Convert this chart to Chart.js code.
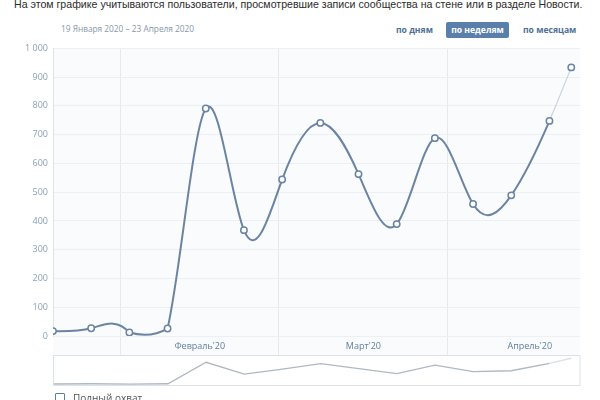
<!DOCTYPE html>
<html>
<head>
<meta charset="utf-8">
<script src="https://cdn.jsdelivr.net/npm/chart.js@4/dist/chart.umd.min.js"></script>
<style>
  body { margin: 0; width: 600px; height: 400px; overflow: hidden; background: #fff; position: relative; font-family: "Open Sans", sans-serif; }
  #note { position: absolute; left: 14px; top: -3px; font-family: "Liberation Sans", Arial, sans-serif; font-size: 10.6px; line-height: 14px; color: #2b2b2b; white-space: nowrap; }
  #range { position: absolute; left: 61px; top: 22px; font-size: 8.3px; line-height: 13px; color: #8797a9; white-space: nowrap; }
  .period { position: absolute; top: 22px; height: 16px; line-height: 16px; font-size: 8.6px; font-weight: bold; color: #4d6f96; white-space: nowrap; }
  .period.on { background: #5a7fab; color: #fff; border-radius: 2px; text-align: center; }
  #full { position: absolute; left: 55px; top: 392px; font-size: 10px; line-height: 12px; color: #555; white-space: nowrap; }
  #full .box { display: inline-block; width: 8px; height: 8px; border: 1px solid #5a7fab; border-radius: 1px; margin-right: 8px; vertical-align: -1px; }
  canvas { position: absolute; left: 0; }
</style>
</head>
<body>
<div id="note">На этом графике учитываются пользователи, просмотревшие записи сообщества на стене или в разделе Новости.</div>
<div id="range">19 Января 2020 – 23 Апреля 2020</div>
<div class="period" style="left:396px">по дням</div>
<div class="period on" style="left:446px;width:63px">по неделям</div>
<div class="period" style="left:523px">по месяцам</div>
<canvas id="chart" width="600" height="318" style="top:38px"></canvas>
<canvas id="nav" width="600" height="31" style="top:355px"></canvas>
<div id="full"><span class="box"></span>Полный охват</div>
<script>
// дни от 19 января 2020, по неделям (последняя неделя неполная)
const days = [0, 7, 14, 21, 28, 35, 42, 49, 56, 63, 70, 77, 84, 91, 95];
const reach = [17, 27, 12, 26, 791, 368, 544, 741, 563, 389, 688, 459, 489, 748, 934];

const monthLabels = ["Февраль'20", "Март'20", "Апрель'20"];
const monthStarts = [12.4, 41.4, 72.4];
const monthLengths = [29, 31, 30];

const yTicks = [0, 100, 200, 300, 400, 500, 600, 700, 800, 900, 1000];

const xMax = 96.6;
const lineColor = '#6b84a3';
const lastColor = '#c9d2dc';

const points = days.map((d, i) => ({ x: d, y: reach[i] }));

const plotBg = {
  id: 'plotBg',
  beforeDraw(chart) {
    const { ctx, chartArea: a } = chart;
    ctx.save();
    ctx.fillStyle = '#fafbfc';
    ctx.fillRect(a.left, a.top, a.right - a.left, a.bottom - a.top + 20);
    ctx.restore();
  }
};

// натуральный кубический сплайн вместо встроенного сглаживания
const naturalSpline = {
  id: 'naturalSpline',
  beforeDatasetsDraw(chart) {
    const meta = chart.getDatasetMeta(0);
    const p = meta.data;
    const n = p.length - 1;
    const bottom = chart.scales.y.getPixelForValue(0);
    const top = chart.scales.y.getPixelForValue(1000);
    const h = [], M = new Array(n + 1).fill(0);
    for (let i = 0; i < n; i++) h.push(p[i + 1].x - p[i].x);
    const a = [], b = [], c = [], d = [];
    for (let i = 1; i < n; i++) {
      a.push(h[i - 1]);
      b.push(2 * (h[i - 1] + h[i]));
      c.push(h[i]);
      d.push(6 * ((p[i + 1].y - p[i].y) / h[i] - (p[i].y - p[i - 1].y) / h[i - 1]));
    }
    const m = b.length;
    for (let i = 1; i < m; i++) {
      const w = a[i] / b[i - 1];
      b[i] -= w * c[i - 1];
      d[i] -= w * d[i - 1];
    }
    for (let i = m - 1; i >= 0; i--) {
      M[i + 1] = (d[i] - (i < m - 1 ? c[i] * M[i + 2] : 0)) / b[i];
    }
    const clampY = y => Math.min(bottom, Math.max(top, y));
    for (let i = 0; i < n; i++) {
      const dy = (p[i + 1].y - p[i].y) / h[i];
      const s0 = dy - h[i] * (2 * M[i] + M[i + 1]) / 6;
      const s1 = dy + h[i] * (M[i] + 2 * M[i + 1]) / 6;
      p[i].cp2x = p[i].x + h[i] / 3;
      p[i].cp2y = clampY(p[i].y + s0 * h[i] / 3);
      p[i + 1].cp1x = p[i + 1].x - h[i] / 3;
      p[i + 1].cp1y = clampY(p[i + 1].y - s1 * h[i] / 3);
    }
    p[0].cp1x = p[0].x; p[0].cp1y = p[0].y;
    p[n].cp2x = p[n].x; p[n].cp2y = p[n].y;
    meta.dataset._pointsUpdated = true;
  }
};

new Chart(document.getElementById('chart'), {
  type: 'line',
  data: {
    datasets: [{
      data: points,
      borderColor: lineColor,
      borderWidth: 2,
      tension: 0.4,
      pointRadius: 3.2,
      pointBorderWidth: 1.5,
      pointBorderColor: lineColor,
      pointBackgroundColor: '#fff',
      segment: {
        borderColor: ctx => ctx.p1DataIndex === reach.length - 1 ? lastColor : lineColor,
        borderWidth: ctx => ctx.p1DataIndex === reach.length - 1 ? 1.2 : 2
      }
    }]
  },
  options: {
    responsive: false,
    animation: false,
    layout: { padding: { top: 7, right: 20, left: 0, bottom: 0 } },
    plugins: { legend: { display: false }, tooltip: { enabled: false } },
    scales: {
      x: {
        type: 'linear',
        min: 0,
        max: xMax,
        afterBuildTicks: scale => {
          const t = [];
          monthStarts.forEach((s, i) => {
            t.push({ value: s });
            t.push({ value: s + monthLengths[i] / 2 });
          });
          scale.ticks = t;
        },
        afterFit: scale => { scale.height = 20; },
        grid: {
          color: ctx => (ctx.index % 2 ? 'rgba(0,0,0,0)' : '#e6eaef'),
          tickLength: 20,
          drawTicks: true
        },
        border: { display: false },
        ticks: {
          autoSkip: false,
          maxRotation: 0,
          padding: -15,
          color: '#5f7da0',
          font: { family: 'Open Sans', size: 9 },
          callback: (v, i) => (i % 2 ? monthLabels[(i - 1) / 2] : '')
        }
      },
      y: {
        min: 0,
        max: 1000,
        afterBuildTicks: scale => { scale.ticks = yTicks.map(v => ({ value: v })); },
        afterFit: scale => { scale.width = 53; },
        grid: { color: '#eceff3', drawTicks: false },
        border: { display: true, color: '#dfe4ea' },
        ticks: {
          padding: 5,
          color: '#8aa0b6',
          font: { family: 'Open Sans', size: 9 },
          callback: v => String(v).replace(/\B(?=(\d{3})+$)/g, ' ')
        }
      }
    }
  },
  plugins: [plotBg, naturalSpline]
});

const navFrame = {
  id: 'navFrame',
  afterDraw(chart) {
    const { ctx, chartArea: a } = chart;
    ctx.save();
    ctx.strokeStyle = '#dde2e8';
    ctx.lineWidth = 1;
    ctx.strokeRect(a.left, a.top, a.right - a.left, a.bottom - a.top);
    ctx.restore();
  }
};

new Chart(document.getElementById('nav'), {
  type: 'line',
  data: {
    datasets: [{
      data: points,
      borderColor: '#aeb8c5',
      borderWidth: 1.3,
      tension: 0,
      pointRadius: 0,
      segment: {
        borderColor: ctx => ctx.p1DataIndex === reach.length - 1 ? '#dbe1e8' : '#aeb8c5'
      }
    }]
  },
  options: {
    responsive: false,
    animation: false,
    layout: { padding: { left: 53.5, right: 20, top: 0.5, bottom: 0.5 } },
    plugins: { legend: { display: false }, tooltip: { enabled: false } },
    scales: {
      x: { type: 'linear', display: false, min: 0, max: xMax },
      y: { display: false, min: -36, max: 1032 }
    }
  },
  plugins: [navFrame]
});
</script>
</body>
</html>
